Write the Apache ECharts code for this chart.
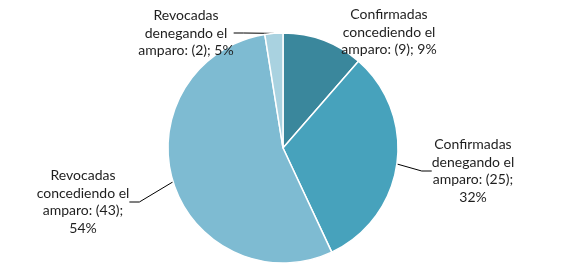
<!DOCTYPE html>
<html><head><meta charset="utf-8">
<script src="https://cdn.jsdelivr.net/npm/echarts@6/dist/echarts.min.js"></script>
<style>html,body{margin:0;padding:0;background:#fff}#c{width:564px;height:273px}</style>
</head><body><div id="c"></div>
<script>
var categories = ['Confirmadas concediendo el amparo', 'Confirmadas denegando el amparo', 'Revocadas concediendo el amparo', 'Revocadas denegando el amparo'];
var values = [9, 25, 43, 2];
var percentLabels = ['9%', '32%', '54%', '5%'];
var labelTexts = [
  'Confirmadas\nconcediendo el\namparo: (9); 9%',
  'Confirmadas\ndenegando el\namparo: (25);\n32%',
  'Revocadas\nconcediendo el\namparo: (43);\n54%',
  'Revocadas\ndenegando el\namparo: (2); 5%'
];
var colors = ['#3A879C', '#47A2BC', '#7EBBD2', '#A9D2E0'];
var labelPos = [[389, 32], [473, 171], [83, 202], [186, 33]];

var chart = echarts.init(document.getElementById('c'));
chart.setOption({
  animation: false,
  series: [{
    type: 'pie',
    center: [283, 148],
    radius: 115,
    startAngle: 90,
    clockwise: true,
    data: values.map(function (v, i) {
      return { name: categories[i], value: v, itemStyle: { color: colors[i] },
        labelLine: { show: i !== 0 } };
    }),
    itemStyle: { borderColor: '#fff', borderWidth: 1.5 },
    label: {
      show: true,
      formatter: function (p) { return labelTexts[p.dataIndex]; },
      fontFamily: 'Lato',
      fontSize: 14,
      lineHeight: 17.5,
      color: '#1e1e1e',
      align: 'center'
    },
    labelLine: { show: true, length: 10, length2: 10, lineStyle: { color: '#000', width: 1 } },
    labelLayout: function (p) {
      var pos = labelPos[p.dataIndex];
      return { x: pos[0], y: pos[1], align: 'center', verticalAlign: 'middle' };
    }
  }]
});
</script></body></html>
